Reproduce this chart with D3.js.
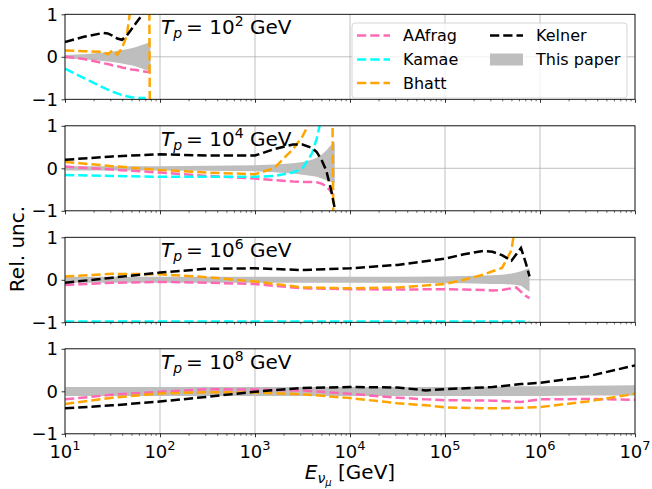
<!DOCTYPE html>
<html><head><meta charset="utf-8">
<script src="https://cdn.jsdelivr.net/npm/d3@7"></script>
<style>body{margin:0;background:#fff} svg text{font-family:"DejaVu Sans",sans-serif;fill:#000}</style>
</head><body><svg id="c" width="652" height="489"></svg>
<script>
// ---------- DATA ----------
const tpExponents = [2, 4, 6, 8];
const seriesNames = ["AAfrag", "Kamae", "Bhatt", "Kelner"];
const seriesColors = ["#ff69b4", "#00ffff", "#ffa500", "#000000"];
const xTickExponents = [1, 2, 3, 4, 5, 6, 7];
const yTicks = [-1, 0, 1];

// Panel 1: Tp = 1e2 GeV
const E1 = [10, 15.8, 25.1, 28.2, 31.6, 35.5, 39.8, 44.7, 50.1, 56.2, 63.1, 70.8, 75.9, 79.4];
const aafrag1 = [0.0, -0.05, -0.15, -0.17, -0.2, -0.22, -0.25, -0.27, -0.3, -0.31, -0.33, -0.35, -0.36, -0.37];
const kamae1 = [-0.28, -0.5, -0.72, -0.77, -0.82, -0.86, -0.9, -0.93, -0.95, -0.96, -0.97, -0.97, null, null];
const bhatt1 = [0.15, 0.13, 0.12, 0.06, 0.15, 0.05, 0.2, 0.5, 1.3, 2, 3, 4, 5, -5];
const kelner1 = [0.35, 0.47, 0.56, 0.55, 0.5, 0.43, 0.4, 0.5, 0.65, 0.8, 0.95, 1.1, 1.3, null];
const bandHi1 = [0.04, 0.06, 0.1, 0.11, 0.12, 0.14, 0.16, 0.18, 0.2, 0.23, 0.27, 0.31, 0.33, 0.35];
const bandLo1 = [-0.04, -0.06, -0.1, -0.11, -0.12, -0.14, -0.16, -0.18, -0.2, -0.23, -0.27, -0.31, -0.33, -0.35];

// Panel 2: Tp = 1e4 GeV
const E2 = [10, 31.6, 100, 316, 1000, 1585, 2512, 3162, 3981, 4467, 5012, 5623, 6310, 6918];
const aafrag2 = [0.04, -0.03, -0.1, -0.18, -0.24, -0.28, -0.31, -0.32, -0.32, -0.33, -0.36, -0.42, -0.55, -0.67];
const kamae2 = [-0.16, -0.18, -0.2, -0.2, -0.2, -0.18, -0.1, 0.0, 0.35, 0.7, 1.2, null, null, null];
const bhatt2 = [0.15, 0.05, -0.04, -0.1, -0.14, 0.0, 0.45, 0.75, 1.2, 2, 3, 4, 5, -5];
const kelner2 = [0.2, 0.28, 0.33, 0.3, 0.3, 0.45, 0.56, 0.56, 0.48, 0.38, 0.2, -0.05, -0.5, -0.95];
const bandHi2 = [0.05, 0.05, 0.05, 0.06, 0.07, 0.09, 0.12, 0.15, 0.2, 0.25, 0.32, 0.42, 0.55, 0.62];
const bandLo2 = [-0.05, -0.05, -0.05, -0.06, -0.07, -0.09, -0.12, -0.15, -0.18, -0.2, -0.24, -0.28, -0.32, -0.34];

// Panel 3: Tp = 1e6 GeV
const E3 = [10, 31.6, 100, 316, 1000, 3162, 1e4, 31623, 1e5, 158489, 251189, 316228, 398107, 501187, 562341, 630957, 707946, 776247];
const aafrag3 = [-0.12, -0.07, -0.05, -0.07, -0.1, -0.2, -0.22, -0.23, -0.22, -0.23, -0.24, -0.25, -0.24, -0.2, -0.18, -0.28, -0.38, -0.43];
const kamae3 = [-0.98, -0.98, -0.98, -0.98, -0.98, -0.98, -0.98, -0.98, -0.98, -0.98, -0.98, -0.98, -0.98, -0.98, -0.98, -0.98, -0.98, -0.98];
const bhatt3 = [0.08, 0.14, 0.13, 0.06, -0.04, -0.18, -0.2, -0.18, -0.1, 0.0, 0.12, 0.2, 0.28, 0.7, 1.5, null, null, null];
const kelner3 = [-0.07, 0.05, 0.17, 0.26, 0.27, 0.23, 0.27, 0.35, 0.5, 0.6, 0.68, 0.66, 0.58, 0.45, 0.6, 0.75, 0.4, 0.08];
const bandHi3 = [0.07, 0.07, 0.07, 0.07, 0.07, 0.07, 0.07, 0.07, 0.08, 0.09, 0.1, 0.11, 0.12, 0.15, 0.17, 0.2, 0.24, 0.27];
const bandLo3 = [-0.07, -0.07, -0.07, -0.07, -0.07, -0.07, -0.07, -0.07, -0.08, -0.08, -0.09, -0.1, -0.1, -0.11, -0.12, -0.14, -0.22, -0.28];

// Panel 4: Tp = 1e8 GeV
const E4 = [10, 31.6, 100, 316, 1000, 3162, 1e4, 31623, 63096, 1e5, 316228, 630957, 1e6, 3162278, 1e7];
const aafrag4 = [-0.19, -0.08, -0.01, 0.05, 0.04, 0.02, -0.06, -0.15, -0.19, -0.21, -0.22, -0.25, -0.19, -0.18, -0.2];
const kamae4 = [null, null, null, null, null, null, null, null, null, null, null, null, null, null, null];
const bhatt4 = [-0.3, -0.15, -0.05, -0.02, -0.03, -0.07, -0.16, -0.28, -0.33, -0.38, -0.4, -0.39, -0.37, -0.24, -0.06];
const kelner4 = [-0.4, -0.33, -0.24, -0.13, -0.01, 0.08, 0.1, 0.09, 0.02, 0.05, 0.1, 0.17, 0.2, 0.35, 0.61];
const bandHi4 = [0.1, 0.1, 0.1, 0.1, 0.1, 0.1, 0.1, 0.1, 0.1, 0.1, 0.11, 0.12, 0.12, 0.13, 0.14];
const bandLo4 = [-0.11, -0.11, -0.11, -0.11, -0.11, -0.11, -0.11, -0.11, -0.11, -0.11, -0.11, -0.11, -0.11, -0.1, -0.1];

const panels = [
  {E: E1, series: [aafrag1, kamae1, bhatt1, kelner1], hi: bandHi1, lo: bandLo1},
  {E: E2, series: [aafrag2, kamae2, bhatt2, kelner2], hi: bandHi2, lo: bandLo2},
  {E: E3, series: [aafrag3, kamae3, bhatt3, kelner3], hi: bandHi3, lo: bandLo3},
  {E: E4, series: [aafrag4, kamae4, bhatt4, kelner4], hi: bandHi4, lo: bandLo4}
];

// ---------- DRAW ----------
const svg = d3.select("#c");
const X0 = 65, X1 = 635;
const x = d3.scaleLog().domain([1e1, 1e7]).range([X0, X1]);
const tops = [14.3, 125.8, 237.3, 348.8];
const PH = 85;
const bandColor = "#bebebe";
const gridColor = "#b0b0b0";
const dash = "9.25,4";
const LW = 2.5;

const majorTicks = xTickExponents.map(e => Math.pow(10, e));
const minorTicks = [];
for (let e = 1; e < 7; e++) for (let m = 2; m <= 9; m++) minorTicks.push(m * Math.pow(10, e));

panels.forEach((p, i) => {
  const top = tops[i];
  const y = d3.scaleLinear().domain([-1, 1]).range([top + PH, top]);
  const g = svg.append("g");
  const clipId = "clip" + i;
  svg.append("clipPath").attr("id", clipId).append("rect")
    .attr("x", X0).attr("y", top).attr("width", X1 - X0).attr("height", PH);

  // grid
  g.append("g").selectAll("line").data(majorTicks).join("line")
    .attr("x1", d => x(d)).attr("x2", d => x(d)).attr("y1", top).attr("y2", top + PH)
    .attr("stroke", gridColor).attr("stroke-width", 0.8);
  g.append("g").selectAll("line").data(yTicks).join("line")
    .attr("x1", X0).attr("x2", X1).attr("y1", d => y(d)).attr("y2", d => y(d))
    .attr("stroke", gridColor).attr("stroke-width", 0.8);

  const plot = g.append("g").attr("clip-path", `url(#${clipId})`);
  // band
  const idx = d3.range(p.E.length);
  const area = d3.area().x(k => x(p.E[k])).y0(k => y(p.lo[k])).y1(k => y(p.hi[k]));
  plot.append("path").attr("d", area(idx)).attr("fill", bandColor).attr("stroke", "none");

  // lines
  p.series.forEach((vals, s) => {
    const line = d3.line().defined(k => vals[k] !== null)
      .x(k => x(p.E[k])).y(k => y(vals[k]));
    if (vals.every(v => v === null)) return;
    plot.append("path").attr("d", line(idx))
      .attr("fill", "none").attr("stroke", seriesColors[s])
      .attr("stroke-width", LW).attr("stroke-dasharray", dash);
  });

  // x axis ticks
  const xa = d3.axisBottom(x).tickValues(majorTicks).tickSize(3.5).tickFormat("");
  const xg = g.append("g").attr("transform", `translate(0,${top + PH})`).call(xa);
  xg.select(".domain").remove();
  xg.selectAll("line").attr("stroke", "#000").attr("stroke-width", 0.8);
  const xm = d3.axisBottom(x).tickValues(minorTicks).tickSize(2).tickFormat("");
  const xmg = g.append("g").attr("transform", `translate(0,${top + PH})`).call(xm);
  xmg.select(".domain").remove();
  xmg.selectAll("line").attr("stroke", "#000").attr("stroke-width", 0.6);

  // y axis
  const ya = d3.axisLeft(y).tickValues(yTicks).tickSize(3.5).tickPadding(3.5)
    .tickFormat(d => d < 0 ? "\u2212" + Math.abs(d) : String(d));
  const yg = g.append("g").attr("transform", `translate(${X0},0)`).call(ya);
  yg.select(".domain").remove();
  yg.selectAll("line").attr("stroke", "#000").attr("stroke-width", 0.8);
  yg.selectAll("text").attr("font-size", 18).attr("font-family", "DejaVu Sans");

  // spines
  g.append("rect").attr("x", X0).attr("y", top).attr("width", X1 - X0).attr("height", PH)
    .attr("fill", "none").attr("stroke", "#000").attr("stroke-width", 0.8);

  // panel label
  const t = g.append("text").attr("x", x(100) + 1).attr("y", top + 20).attr("font-size", 20);
  t.append("tspan").attr("font-style", "italic").text("T");
  t.append("tspan").attr("font-style", "italic").attr("font-size", 14).attr("dy", 4).text("p");
  t.append("tspan").attr("dy", -4).text("\u2009= 10");
  t.append("tspan").attr("font-size", 14).attr("dy", -8).text(tpExponents[i]);
  t.append("tspan").attr("dy", 8).text(" GeV");

  // x tick labels on bottom panel
  if (i === panels.length - 1) {
    xTickExponents.forEach(e => {
      const tt = g.append("text").attr("x", x(Math.pow(10, e))).attr("y", top + PH + 24)
        .attr("text-anchor", "middle").attr("font-size", 18);
      tt.append("tspan").text("10");
      tt.append("tspan").attr("font-size", 13).attr("dy", -8).text(e);
    });
  }
});

// legend (panel 1)
const lg = svg.append("g");
lg.append("rect").attr("x", 352).attr("y", 23).attr("width", 275).attr("height", 75).attr("rx", 3)
  .attr("fill", "#fff").attr("fill-opacity", 0.8).attr("stroke", "#cccccc").attr("stroke-width", 0.8);
const legendItems = [
  {name: seriesNames[0], color: seriesColors[0], col: 0, row: 0, type: "line"},
  {name: seriesNames[1], color: seriesColors[1], col: 0, row: 1, type: "line"},
  {name: seriesNames[2], color: seriesColors[2], col: 0, row: 2, type: "line"},
  {name: seriesNames[3], color: seriesColors[3], col: 1, row: 0, type: "line"},
  {name: "This paper", color: bandColor, col: 1, row: 1, type: "patch"}
];
const colX = [357, 490];
const rowY = [35.5, 59.5, 83];
legendItems.forEach(it => {
  const hx = colX[it.col], hy = rowY[it.row];
  if (it.type === "line") {
    lg.append("line").attr("x1", hx).attr("x2", hx + 33).attr("y1", hy).attr("y2", hy)
      .attr("stroke", it.color).attr("stroke-width", LW).attr("stroke-dasharray", dash);
  } else {
    lg.append("rect").attr("x", hx).attr("y", hy - 6).attr("width", 33).attr("height", 12).attr("fill", it.color);
  }
  lg.append("text").attr("x", hx + 46).attr("y", hy).attr("dy", "0.35em").attr("font-size", 16).text(it.name);
});

// axis labels
svg.append("text").attr("transform", "translate(24,249) rotate(-90)")
  .attr("text-anchor", "middle").attr("font-size", 20).text("Rel. unc.");
const xl = svg.append("text").attr("x", 350).attr("y", 479).attr("text-anchor", "middle").attr("font-size", 20);
xl.append("tspan").attr("font-style", "italic").text("E");
xl.append("tspan").attr("font-style", "italic").attr("font-size", 14).attr("dy", 4).text("\u03bd");
xl.append("tspan").attr("font-style", "italic").attr("font-size", 10).attr("dy", 3).text("\u03bc");
xl.append("tspan").attr("dy", -7).text(" [GeV]");
</script>
</body></html>
